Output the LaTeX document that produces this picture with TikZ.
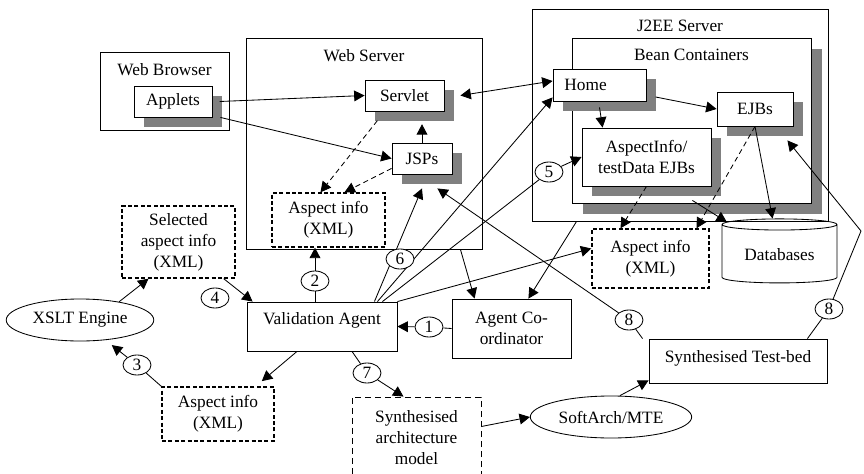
\documentclass[tikz,border=0pt]{standalone}
\usepackage{fontspec}
\setmainfont{Liberation Serif}
\usetikzlibrary{positioning, shapes, shadows, arrows.meta}
\definecolor{shadowgray}{RGB}{128,128,128}

\tikzset{
	arr/.style={-{Triangle[length=2.6mm, width=2.7mm]}},
	darr/.style={{Triangle[length=2.6mm, width=2.7mm]}-{Triangle[length=2.6mm, width=2.7mm]}},
	dasharr/.style={arr, dash pattern=on 1.3mm off 0.9mm},
	shadowbox/.style={rectangle, draw, fill=white, general shadow={fill=shadowgray, shadow xshift=2.4mm, shadow yshift=-2.4mm}},
	xmlbox/.style={rectangle, draw, align=center, line width=1pt, dash pattern=on 1mm off 0.6mm},
	numcirc/.style={ellipse, draw, fill=white, inner sep=0pt, minimum width=0.7cm, minimum height=0.5cm},
}

\begin{document}
\begin{tikzpicture}[x=0.025cm, y=-0.025cm, line width=0.6pt, font=\fontsize{12.3}{15}\selectfont]
		\useasboundingbox (0,0) rectangle (864,474);
		% containers
		\node (webBrowser)[rectangle, draw, minimum width=3.225cm, minimum height=1.95cm] at (164.5,91) {};
		\node (webBrowserText)[below=1.6mm of webBrowser.north] {Web Browser};
		\node (webServer)[rectangle, draw, minimum width=5.9cm, minimum height=5.275cm] at (364,143.5) {};
		\node (webServerText)[below=1.6mm of webServer.north] {Web Server};
		\node (j2ee)[rectangle, draw, minimum width=7.4cm, minimum height=5.3cm] at (680,115) {};
		\node (j2eeText)[below=1.6mm of j2ee.north] {J2EE Server};
		\node (beanCont)[rectangle, draw, fill=white, general shadow={fill=shadowgray, shadow xshift=2.75mm, shadow yshift=-2.75mm}, minimum width=5.975cm, minimum height=4.125cm] at (691.5,120.5) {};
		\node (beanContText)[below=1.6mm of beanCont.north] {Bean Containers};
		
		% components
		\node (applets)[shadowbox, minimum width=1.95cm, minimum height=0.775cm] at (173,101.5) {Applets};
		\node (servlet)[shadowbox, minimum width=1.975cm, minimum height=0.775cm] at (404.5,95.5) {Servlet};
		\node (jsps)[shadowbox, minimum width=1.5cm, minimum height=0.775cm] at (422,158.5) {JSPs};
		\node (aspectWeb)[xmlbox, minimum width=2.825cm, minimum height=1.35cm] at (328.5,220) {Aspect info\\(XML)};
		\node (home)[shadowbox, text width=1.75cm, align=left, inner xsep=0.25cm, minimum width=2.325cm, minimum height=0.8cm] at (599.5,85) {Home};
		\node (ejbs)[shadowbox, minimum width=1.9cm, minimum height=0.85cm] at (755,109) {EJBs};
		\node (aspectEjbs)[shadowbox, align=center, minimum width=3.225cm, minimum height=1.45cm] at (646.5,157) {AspectInfo/\\testData EJBs};
		\node (aspectJ2ee)[xmlbox, minimum width=2.925cm, minimum height=1.475cm] at (650.5,258.5) {Aspect info\\(XML)};
		\node (databases)[cylinder, draw, shape border rotate=90, aspect=0.14, minimum width=2.875cm, minimum height=1.6cm] at (779.5,255) {Databases};
		\node (selAspect)[xmlbox, minimum width=2.825cm, minimum height=1.8cm] at (178.5,242) {Selected\\aspect info\\(XML)};
		\node (xslt)[ellipse, draw, minimum width=3.525cm, minimum height=1.05cm] at (80,320) {XSLT Engine};
		\node (validation)[rectangle, draw, text depth=11pt, minimum width=3.75cm, minimum height=1.225cm] at (322,326.5) {Validation Agent};
		\node (agentCoord)[rectangle, draw, align=center, minimum width=2.975cm, minimum height=1.475cm] at (511.5,328.5) {Agent Co-\\ordinator};
		\node (aspectLeft)[xmlbox, minimum width=2.8cm, minimum height=1.35cm] at (218,414) {Aspect info\\(XML)};
		\node (synthArch)[rectangle, draw, align=center, dash pattern=on 1.5mm off 1mm, minimum width=3.225cm, minimum height=2.025cm] at (416.5,437.5) {Synthesised\\architecture\\model};
		\node (softArch)[ellipse, draw, minimum width=3.525cm, minimum height=1.05cm] at (611,417) {SoftArch/MTE};
		\node (testBed)[rectangle, draw, text depth=6pt, minimum width=4.45cm, minimum height=1.1cm] at (738,361) {Synthesised Test-bed};
		
		% step numbers
		\node (c1)[numcirc] at (429,327) {1};
		\node (c2)[numcirc] at (315,281) {2};
		\node (c3)[numcirc] at (137,365) {3};
		\node (c4)[numcirc] at (215,298) {4};
		\node (c5)[numcirc] at (549,172) {5};
		\node (c7)[numcirc] at (367,373) {7};
		\node (c8a)[numcirc] at (629,320) {8};
		\node (c8b)[numcirc] at (829,309) {8};
		\coordinate (bendR) at (861,231);
		
		\draw[arr] ([xshift=1.8mm]applets.east) -- (servlet.west);
		\draw[arr] ([xshift=2mm]applets.south east) -- (jsps.west);
		\draw[darr] ([xshift=4mm]servlet.east) -- ([yshift=1mm]home.west);
		\draw[arr, shorten >=3.2mm] (jsps.north) -- (jsps.north |- servlet.south);
		\draw[dasharr] ([shift={(3.2mm,-2.3mm)}]servlet.south west) -- ([xshift=-2mm]aspectWeb.north);
		\draw[dasharr] ([yshift=1.5mm]jsps.south west) -- ([xshift=4mm]aspectWeb.north);
		\draw[arr] ([shift={(2.3mm,-3mm)}]home.east) -- (ejbs.west);
		\draw[arr] ([yshift=-1.5mm]home.south) -- ([xshift=5.25mm]aspectEjbs.north west);
		\draw[dasharr] (aspectEjbs.south) -- ([xshift=-7.5mm]aspectJ2ee.north);
		\draw[dasharr] (ejbs.south) -- ([xshift=11.5mm]aspectJ2ee.north);
		\draw[arr] (ejbs.south) -- (databases);
		\draw[arr] ([shift={(-4.75mm,-3.5mm)}]aspectEjbs.south east) -- (databases);
		
		\draw (aspectLeft.north west) -- (c3);
		\draw[arr, shorten >=2mm] (c3) -- (xslt);
		\draw[arr] (xslt.25) -- ([xshift=-7.5mm]selAspect.south);
		\draw[arr] ([xshift=-3mm]selAspect.south east) -- ([xshift=1.5mm]validation.north west);
		\draw[arr, shorten >=2mm] ([xshift=-6.25mm]validation.south) -- ([xshift=-4.75mm]aspectLeft.north east);
		\draw (c2 |- validation.north) -- (c2);
		\draw[arr] (c2) -- (c2 |- aspectWeb.south);
		\draw (agentCoord.west) -- (c1);
		\draw[arr] (c1) -- (validation.east);
		\draw[arr] ([xshift=-5.75mm]validation.north east) -- ([yshift=-3.5mm]jsps.south);
		\draw[arr] ([xshift=-5mm]validation.north east) -- ([yshift=1mm]home.south west);
		\draw ([xshift=-3.75mm]validation.north east) -- (c5);
		\draw[arr] (c5) -- (aspectEjbs.west);
		\draw[arr] (validation.north east) -- ([yshift=2.5mm]aspectJ2ee.west);
		\draw[arr] ([xshift=-5.5mm]webServer.south east) -- ([xshift=5.75mm]agentCoord.north west);
		\draw[arr] ([xshift=11.25mm]j2ee.south west) -- ([xshift=-10.75mm]agentCoord.north east);
		
		\draw ([xshift=-1.5mm]testBed.north west) -- (c8a);
		\draw[arr] (c8a) -- ([shift={(-3.75mm,-3.5mm)}]jsps.south east);
		\draw ([xshift=-5mm]testBed.north east) -- (c8b);
		\draw[arr] (c8b) -- (bendR) -- ([shift={(-1.5mm,-3.5mm)}]ejbs.south east);
		\draw ([xshift=7.5mm]validation.south) -- (c7);
		\draw[arr] (c7) -- ([xshift=-3.25mm]synthArch.north);
		\draw[arr] ([yshift=2.75mm]synthArch.east) -- (softArch.west);
		\draw[arr] ([xshift=2.25mm]softArch.north) -- ([yshift=0.75mm]testBed.south west);
		
		\node (c6)[numcirc] at (400,259) {6};
	\end{tikzpicture}
\end{document}
